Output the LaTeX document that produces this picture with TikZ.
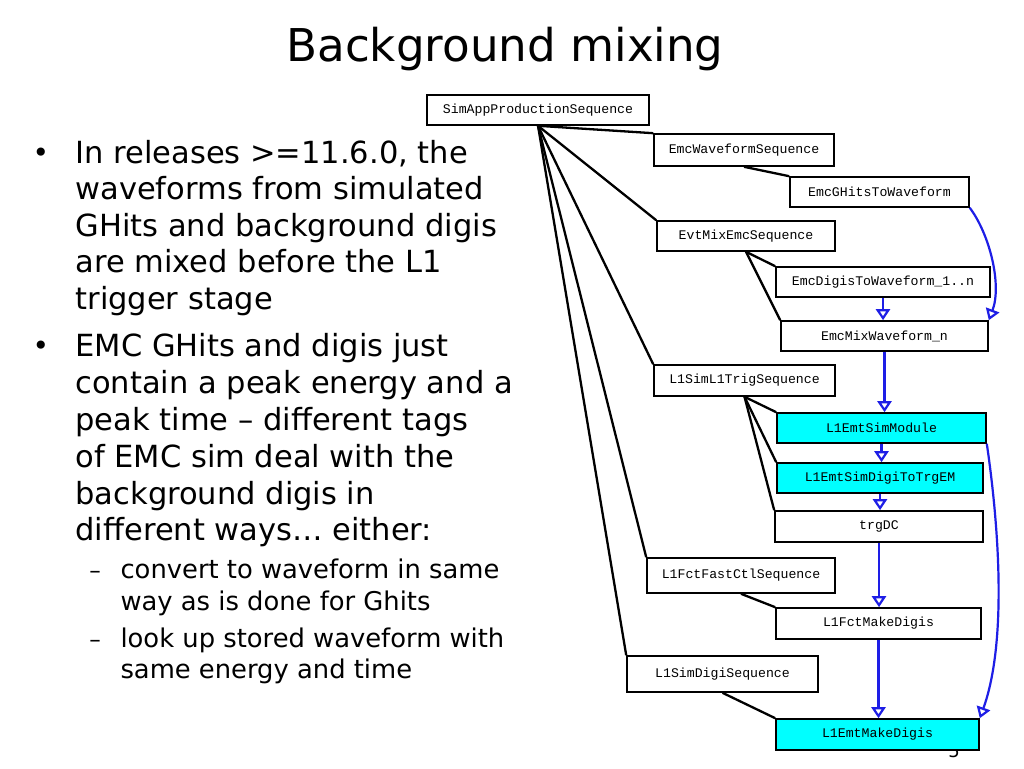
\documentclass[tikz,border=0pt]{standalone}
\usepackage{fontspec}
\setmainfont{DejaVu Sans}
\newfontfamily\boxfont{Liberation Mono}
\usetikzlibrary{arrows.meta}
\definecolor{flowblue}{RGB}{30,30,230}
\definecolor{boxcyan}{RGB}{0,255,255}
\begin{document}
\begin{tikzpicture}[x=1pt,y=-1pt,
  box/.style 2 args={draw=black, line width=1.6pt, fill=white, inner sep=0pt,
    minimum width=#1pt, minimum height=#2pt,
    font=\boxfont\fontsize{13.2}{15}\selectfont},
  hot/.style 2 args={box={#1}{#2}, fill=boxcyan},
  tree/.style={draw=black, line width=2.3pt},
  flow/.style={draw=flowblue, line width=2.2pt,
    -{Triangle[open,length=11pt,width=14pt]}},
  txt/.style={anchor=base west, font=\fontsize{30.5}{33}\selectfont},
  subtxt/.style={anchor=base west, font=\fontsize{25.8}{28}\selectfont},
  bulletdot/.style={anchor=base, font=\fontsize{28}{30}\selectfont}
]
\useasboundingbox[fill=white] (0,0) rectangle (1024,768);

% title
\node[anchor=base, font=\fontsize{45.2}{50}\selectfont] (title) at (505,62) {Background mixing};

% bullets
\node[bulletdot] (b1) at (41,162) {•};
\node[txt] (t1) at (72,163) {In releases >=11.6.0, the};
\node[txt] (t2) at (72,199.5) {waveforms from simulated};
\node[txt] (t3) at (72,236) {GHits and background digis};
\node[txt] (t4) at (72,272.5) {are mixed before the L1};
\node[txt] (t5) at (72,309) {trigger stage};
\node[bulletdot] (b2) at (41,355) {•};
\node[txt] (t6) at (72,356) {EMC GHits and digis just};
\node[txt] (t7) at (72,393) {contain a peak energy and a};
\node[txt] (t8) at (72,430) {peak time – different tags};
\node[txt] (t9) at (72,467) {of EMC sim deal with the};
\node[txt] (t10) at (72,504) {background digis in};
\node[txt] (t11) at (72,540) {different ways… either:};
\node[anchor=base, font=\fontsize{23}{25}\selectfont] (d1) at (95,578) {–};
\node[subtxt] (s1) at (117,578) {convert to waveform in same};
\node[subtxt] (s2) at (117,610) {way as is done for Ghits};
\node[anchor=base, font=\fontsize{23}{25}\selectfont] (d2) at (95,647) {–};
\node[subtxt] (s3) at (117,647) {look up stored waveform with};
\node[subtxt] (s4) at (117,678) {same energy and time};

% page number (partly hidden)
\node[anchor=base, font=\fontsize{18}{20}\selectfont] (pg) at (954,757) {5};

% boxes
\node[box={222}{30}] (sim) at (538,110) {SimAppProductionSequence};
\node[box={180}{32}] (ews) at (744,150) {EmcWaveformSequence};
\node[box={179}{30}] (egh) at (879.5,192) {EmcGHitsToWaveform};
\node[box={178}{30}] (evt) at (746,236) {EvtMixEmcSequence};
\node[box={214}{30}] (edw) at (883,282) {EmcDigisToWaveform\_1..n};
\node[box={207}{30}] (emw) at (884.5,336) {EmcMixWaveform\_n};
\node[box={181}{31}] (l1t) at (744.5,380.5) {L1SimL1TrigSequence};
\node[hot={209}{30}] (esm) at (881.5,428) {L1EmtSimModule};
\node[hot={206}{30}] (esd) at (880,478) {L1EmtSimDigiToTrgEM};
\node[box={208}{31}] (trg) at (879,526.5) {trgDC};
\node[box={188}{35}] (fct) at (741,575.5) {L1FctFastCtlSequence};
\node[box={205}{31}] (fmd) at (878.5,623.5) {L1FctMakeDigis};
\node[box={191}{36}] (sds) at (722.5,674) {L1SimDigiSequence};
\node[hot={203}{31}] (emd) at (877.5,734.5) {L1EmtMakeDigis};

% tree connectors
\foreach \c in {ews,evt,l1t,fct,sds}
  \draw[tree] (sim.south) -- (\c.north west);
\draw[tree] (ews.south) -- (egh.north west);
\draw[tree] (evt.south) -- (edw.north west);
\draw[tree] (evt.south) -- (emw.north west);
\draw[tree] (l1t.south) -- (esm.north west);
\draw[tree] (l1t.south) -- (esd.north west);
\draw[tree] (l1t.south) -- (trg.north west);
\draw[tree] (fct.south) -- (fmd.north west);
\draw[tree] (sds.south) -- (emd.north west);

% flow arrows
\draw[flow] (edw.south) -- (edw.south |- emw.north);
\draw[flow] (emw.south) -- (emw.south |- esm.north);
\draw[flow] (esm.south) -- (esm.south |- esd.north);
\draw[flow] (esd.south) -- (esd.south |- trg.north);
\draw[flow] (trg.south) -- (trg.south |- fmd.north);
\draw[flow] (fmd.south) -- (fmd.south |- emd.north);
\draw[flow] (egh.south east) .. controls (990,235) and (1002,285) .. (emw.north east);
\draw[flow] (esm.south east) .. controls (998,520) and (1008,640) .. (emd.north east);
\end{tikzpicture}
\end{document}
